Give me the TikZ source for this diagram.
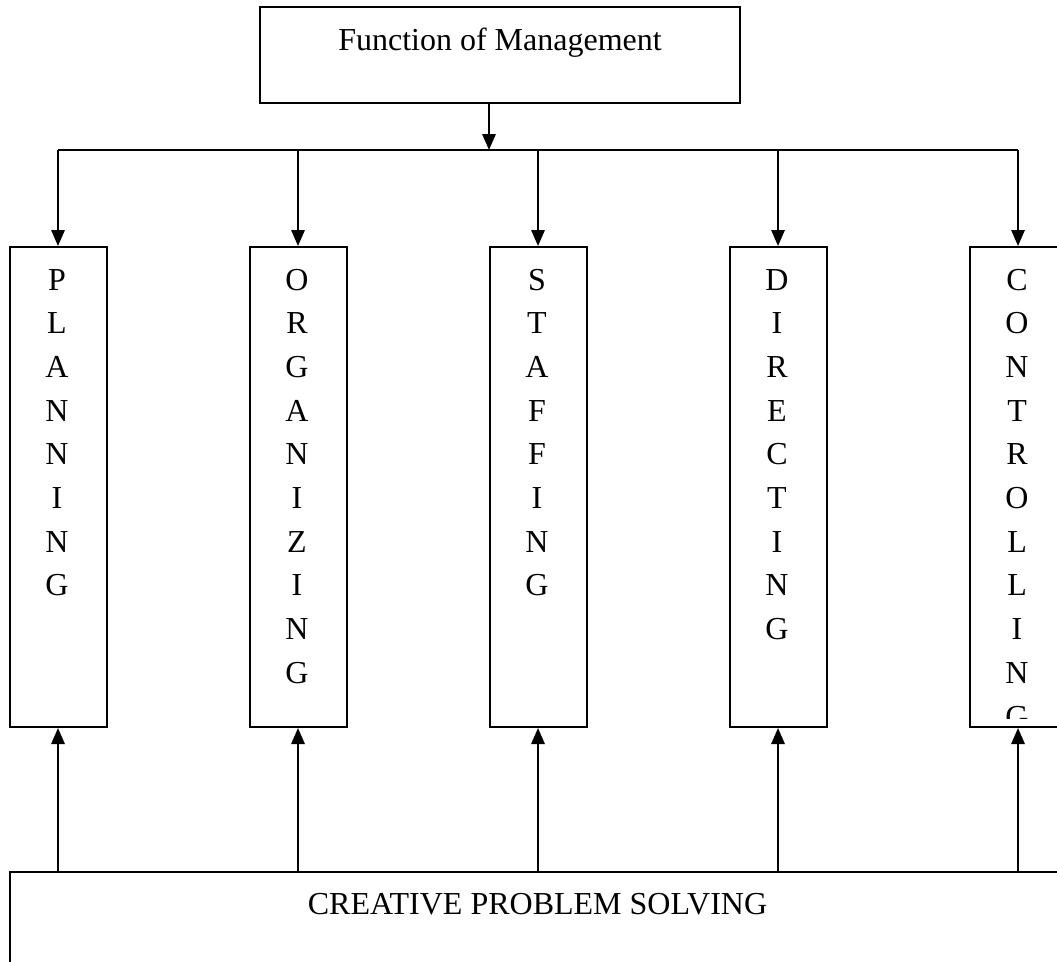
\documentclass[tikz,border=0pt]{standalone}
\usepackage{fontspec}
\setmainfont{Liberation Serif}
\usetikzlibrary{arrows.meta,positioning}

\begin{document}
\begin{tikzpicture}[x=0.375pt,y=-0.375pt,line width=0.75pt,
   font=\fontsize{12}{14}\selectfont,
   fbox/.style={draw,inner sep=0pt,minimum width=36.375pt,minimum height=180pt,anchor=north west},
   ltr/.style={anchor=base,inner sep=0pt},
   arr/.style={-{Triangle[length=6pt,width=5pt]}}]

 \useasboundingbox (0,0) rectangle (1057,961);
 \clip (0,0) rectangle (1057,961);

 \node[draw,anchor=north,inner sep=0pt,minimum width=180pt,text height=16.6pt,text depth=19.4pt] (fom) at (500,5.7) {Function of Management};
 \node[draw,anchor=north west,inner sep=0pt,minimum width=396pt,text height=16.1pt,text depth=40pt] (cps) at (8.5,871) {CREATIVE PROBLEM SOLVING};

 % the five functions, one letter per line
 \foreach \name/\word [count=\k from 0] in {plan/{P,L,A,N,N,I,N,G},org/{O,R,G,A,N,I,Z,I,N,G},staff/{S,T,A,F,F,I,N,G},dir/{D,I,R,E,C,T,I,N,G},ctrl/{C,O,N,T,R,O,L,L,I,N,G}}
 {
  \node[fbox] (\name) at (8.5+240*\k,246) {};
  \begin{scope}
   \clip (\name.north west) rectangle ([yshift=3.75pt]\name.south east);
   \foreach \l [count=\i] in \word
    \node[ltr] (\name-\i) at (57+240*\k,246.3+43.7*\i) {\l};
  \end{scope}
 }

 \coordinate (split) at (489,150);
 \draw[arr] (fom.south -| split) -- (split);
 \draw (plan.north |- split) -- (ctrl.north |- split);
 \foreach \name in {plan,org,staff,dir,ctrl}
 {
  \draw[arr] (\name.north |- split) -- (\name.north);
  \draw[arr] (\name.south |- cps.north) -- (\name.south);
 }

\end{tikzpicture}
\end{document}
